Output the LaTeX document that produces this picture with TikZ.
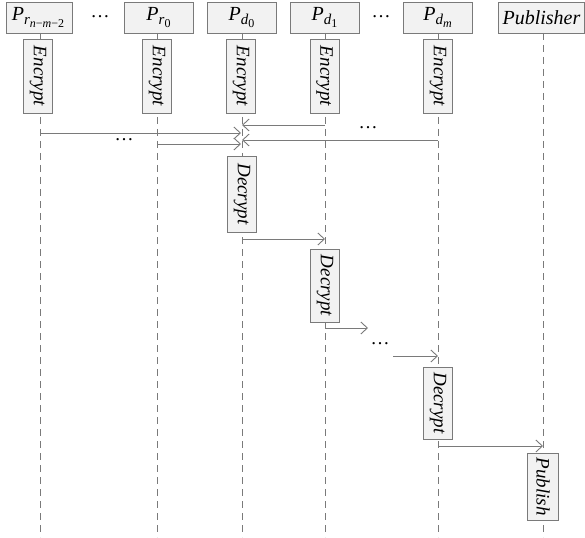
\documentclass[tikz,border=0pt]{standalone}
\usepackage{fontspec}
\setmainfont{Liberation Serif}
\usetikzlibrary{arrows.meta}
\definecolor{lncol}{HTML}{7A7A7A}
\definecolor{boxfill}{HTML}{F2F2F2}
\newcommand{\subA}[1]{\raisebox{-4.5pt}{\fontsize{15}{15}\selectfont #1}}
\newcommand{\subB}[1]{\raisebox{-3pt}{\fontsize{12}{12}\selectfont #1}}
\tikzset{
  x=1pt, y=-1pt,
  headbox/.style={draw=lncol, fill=boxfill, line width=0.8pt, minimum height=31pt, inner sep=0pt, font=\fontsize{20}{22}\selectfont\itshape},
  actbox/.style={draw=lncol, fill=boxfill, line width=0.8pt, rotate=-90, inner sep=0pt, font=\fontsize{19}{22}\selectfont\itshape},
  life/.style={draw=lncol, line width=0.9pt, dash pattern=on 7pt off 5pt},
  msg/.style={draw=lncol, line width=0.9pt, -{Straight Barb[length=6.5pt,width=12pt]}},
  dotsl/.style={font=\fontsize{19}{22}\selectfont, inner sep=0pt}
}
\begin{document}
\begin{tikzpicture}
\useasboundingbox (0,0) rectangle (585,537);
% head boxes
\node[headbox, minimum width=66pt] (h1) at (39,17.5) {P\subA{r\subB{n\textup{−}m\textup{−}\textup{2}}}\kern2pt};
\node[headbox, minimum width=69pt] (h2) at (158.5,17.5) {P\subA{r\subB{\textup{0}}}};
\node[headbox, minimum width=69pt] (h3) at (241.5,17.5) {P\subA{d\subB{\textup{0}}}};
\node[headbox, minimum width=69pt] (h4) at (324.5,17.5) {P\subA{d\subB{\textup{1}}}};
\node[headbox, minimum width=69pt] (h5) at (437.5,17.5) {P\subA{d\subB{m}}};
\node[headbox, minimum width=86pt] (h6) at (541.5,17.5) {Publisher};
\node[dotsl] (d1) at (100,17) {\dots};
\node[dotsl] (d2) at (381,17) {\dots};
% lifeline ends
\coordinate (e1) at (40,537);
\coordinate (e2) at (157,537);
\coordinate (e3) at (242,537);
\coordinate (e4) at (325,537);
\coordinate (e5) at (438,537);
\coordinate (e6) at (543,537);
\coordinate (s1) at (40,33);
\coordinate (s2) at (157,33);
\coordinate (s3) at (242,33);
\coordinate (s4) at (325,33);
\coordinate (s5) at (438,33);
\coordinate (s6) at (543,33);
\foreach \i in {1,...,6} { \draw[life] (s\i) -- (e\i); }
% encrypt boxes
\node[actbox, minimum width=74pt, minimum height=29pt] (en1) at (38,76) {Encrypt};
\node[actbox, minimum width=74pt, minimum height=29pt] (en2) at (157,76) {Encrypt};
\node[actbox, minimum width=74pt, minimum height=29pt] (en3) at (241,76) {Encrypt};
\node[actbox, minimum width=74pt, minimum height=29pt] (en4) at (324.5,76) {Encrypt};
\node[actbox, minimum width=74pt, minimum height=29pt] (en5) at (438,76) {Encrypt};
% messages to P_d0
\coordinate (a4) at (325,125); \coordinate (t4) at (242,125);
\coordinate (a1) at (40,133);  \coordinate (t1) at (241,133);
\coordinate (a5) at (438,140); \coordinate (t5) at (242,140);
\coordinate (a2) at (157,144); \coordinate (t2) at (241,144);
\draw[msg] (a4) -- (t4);
\draw[msg] (a1) -- (t1);
\draw[msg] (a5) -- (t5);
\draw[msg] (a2) -- (t2);
\node[dotsl] (d3) at (124,140) {\dots};
\node[dotsl] (d4) at (368,128) {\dots};
% decrypt chain
\node[actbox, minimum width=76pt, minimum height=29pt] (de1) at (242,194) {Decrypt};
\coordinate (b1) at (242,239); \coordinate (c1) at (325,239);
\draw[msg] (b1) -- (c1);
\node[actbox, minimum width=73pt, minimum height=29pt] (de2) at (325,285.5) {Decrypt};
\coordinate (b2) at (325,328); \coordinate (c2) at (368,328);
\draw[msg] (b2) -- (c2);
\node[dotsl] (d5) at (380,344) {\dots};
\coordinate (b3) at (393,356); \coordinate (c3) at (438,356);
\draw[msg] (b3) -- (c3);
\node[actbox, minimum width=72pt, minimum height=29pt] (de3) at (438,403) {Decrypt};
\coordinate (b4) at (438,446); \coordinate (c4) at (543,446);
\draw[msg] (b4) -- (c4);
\node[actbox, minimum width=67pt, minimum height=31pt] (pu) at (543,486.5) {Publish};
\end{tikzpicture}
\end{document}
